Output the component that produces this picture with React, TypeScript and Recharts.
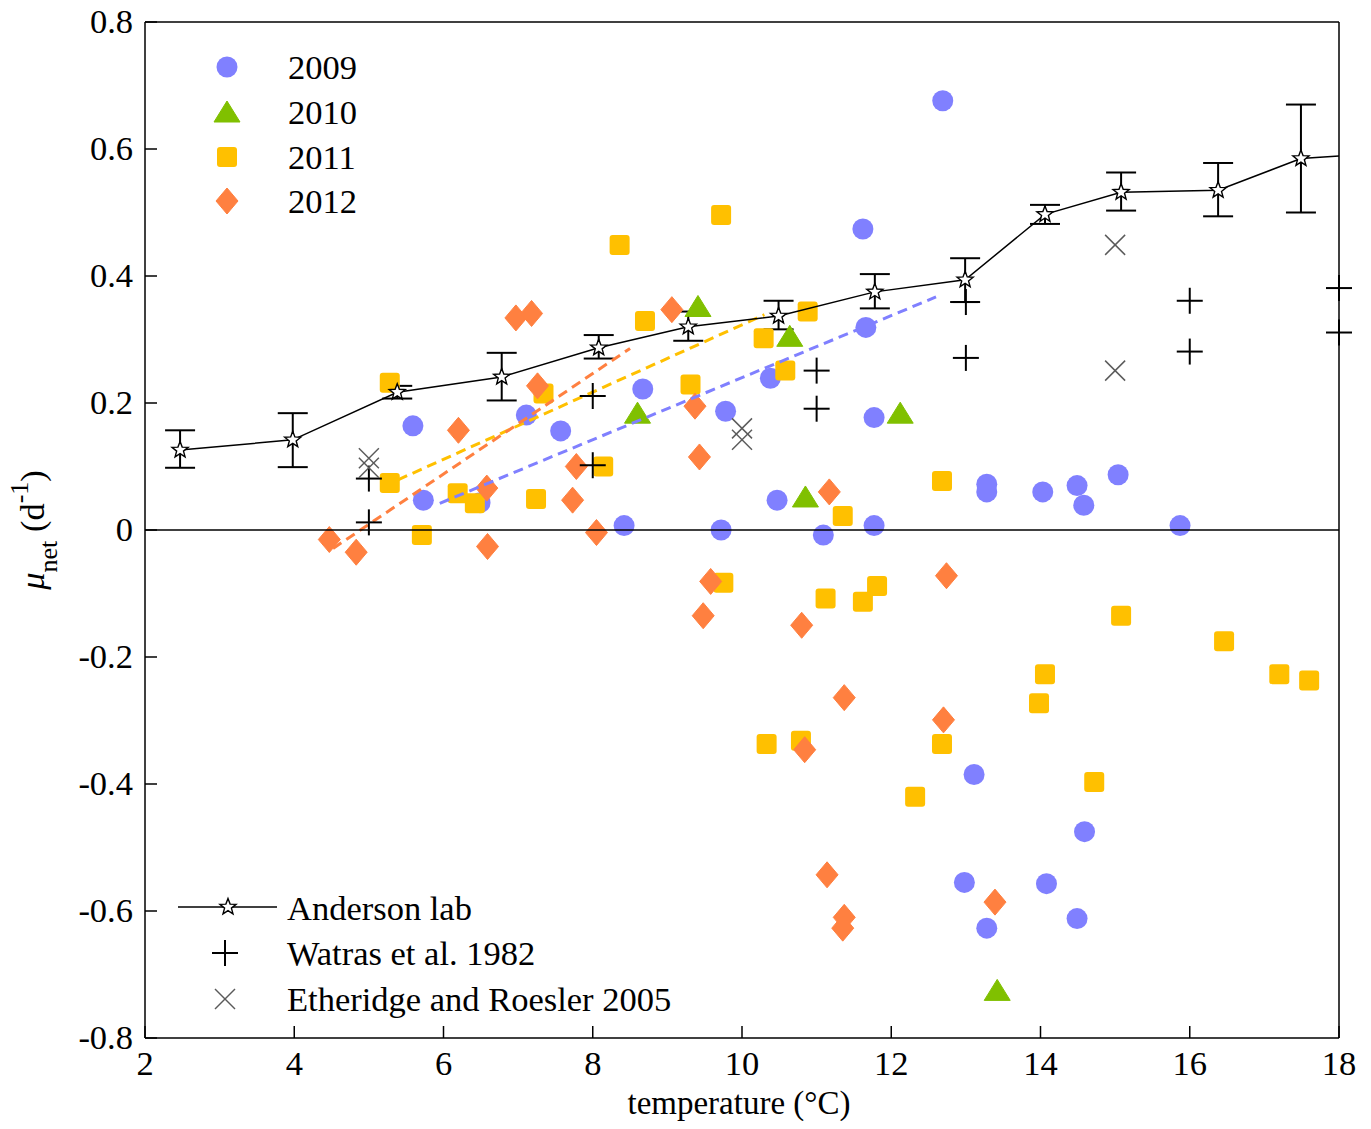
import React from 'react';
import { ComposedChart, Scatter, XAxis, YAxis, ErrorBar } from 'recharts';

const FONT = '"Liberation Serif", "Times New Roman", Times, serif';
const FS = 34.5;

// ---- axis ticks ----
const xTicks = [2, 4, 6, 8, 10, 12, 14, 16, 18];
const yTicks = [-0.8, -0.6, -0.4, -0.2, 0, 0.2, 0.4, 0.6, 0.8];

// ---- field data by year ----
const x2009 = [12.69, 11.62, 11.66, 10.38, 8.67, 9.78, 11.77, 5.59, 7.11, 7.57, 5.73, 6.49, 8.42, 9.72, 10.47, 11.09, 11.77, 13.28, 13.28, 14.03, 14.49, 14.58, 15.04, 15.87, 13.11, 14.59, 12.98, 14.08, 13.28, 14.49];
const y2009 = [0.676, 0.474, 0.319, 0.239, 0.222, 0.187, 0.177, 0.164, 0.181, 0.156, 0.047, 0.043, 0.007, 0.0, 0.047, -0.008, 0.007, 0.072, 0.06, 0.06, 0.07, 0.039, 0.087, 0.007, -0.385, -0.475, -0.555, -0.557, -0.627, -0.612];

const x2010 = [9.41, 10.64, 8.6, 12.12, 10.85, 13.42];
const y2010 = [0.352, 0.305, 0.184, 0.184, 0.052, -0.725];

const x2011 = [9.72, 8.36, 8.7, 10.88, 10.29, 10.58, 9.31, 5.28, 7.34, 8.14, 5.28, 6.19, 6.42, 7.24, 5.71, 11.35, 12.68, 9.75, 11.12, 11.62, 11.81, 15.08, 16.46, 17.2, 17.6, 14.06, 13.98, 10.33, 10.79, 12.68, 12.32, 14.72];
const y2011 = [0.496, 0.449, 0.329, 0.344, 0.302, 0.251, 0.229, 0.232, 0.215, 0.1, 0.074, 0.058, 0.042, 0.049, -0.008, 0.022, 0.077, -0.083, -0.108, -0.113, -0.088, -0.135, -0.175, -0.227, -0.237, -0.227, -0.273, -0.337, -0.332, -0.337, -0.42, -0.397];

const x2012 = [6.97, 7.18, 9.06, 7.26, 6.2, 7.78, 7.73, 6.58, 4.47, 4.83, 6.59, 8.05, 9.37, 9.43, 11.17, 9.58, 9.48, 10.8, 12.74, 11.37, 12.7, 10.84, 11.14, 11.37, 11.35, 13.39];
const y2012 = [0.334, 0.341, 0.347, 0.227, 0.157, 0.1, 0.047, 0.066, -0.015, -0.035, -0.026, -0.004, 0.195, 0.115, 0.06, -0.081, -0.135, -0.15, -0.072, -0.264, -0.299, -0.346, -0.543, -0.61, -0.627, -0.586];

// ---- regression lines (start / end) ----
const fit2009X = [5.95, 12.6];
const fit2009Y = [0.042, 0.367];
const fit2011X = [5.39, 10.3];
const fit2011Y = [0.079, 0.339];
const fit2012X = [4.52, 8.5];
const fit2012Y = [-0.029, 0.286];

// ---- Anderson lab means with error bounds ----
const andX = [2.47, 3.98, 5.38, 6.78, 8.08, 9.28, 10.49, 11.78, 12.99, 14.06, 15.08, 16.38, 17.49];
const andY = [0.126, 0.142, 0.217, 0.241, 0.287, 0.32, 0.337, 0.375, 0.394, 0.497, 0.532, 0.535, 0.585];
const andLo = [0.098, 0.099, 0.207, 0.204, 0.27, 0.298, 0.316, 0.349, 0.359, 0.482, 0.503, 0.494, 0.5];
const andHi = [0.157, 0.184, 0.227, 0.279, 0.307, 0.344, 0.361, 0.403, 0.428, 0.512, 0.563, 0.578, 0.67];
const andLineX = [...andX, 18];
const andLineY = [...andY, 0.589];

// ---- literature ----
const watrasX = [5, 5, 8, 8, 11, 11, 13, 13, 16, 16, 18, 18];
const watrasY = [0.081, 0.012, 0.211, 0.102, 0.251, 0.191, 0.359, 0.271, 0.361, 0.281, 0.381, 0.311];
const ethX = [5, 5, 10, 10, 15, 15];
const ethY = [0.113, 0.098, 0.16, 0.142, 0.449, 0.251];

const zeroX = [2, 18];
const zeroY = [0, 0];

const rows = (xs: number[], ys: number[]) => xs.map((x, i) => ({ x, y: ys[i] }));

const d2009 = rows(x2009, y2009);
const d2010 = rows(x2010, y2010);
const d2011 = rows(x2011, y2011);
const d2012 = rows(x2012, y2012);
const dFit2009 = rows(fit2009X, fit2009Y);
const dFit2011 = rows(fit2011X, fit2011Y);
const dFit2012 = rows(fit2012X, fit2012Y);
const dAnd = andX.map((x, i) => ({ x, y: andY[i], err: [andY[i] - andLo[i], andHi[i] - andY[i]] }));
const dAndLine = rows(andLineX, andLineY);
const dWatras = rows(watrasX, watrasY);
const dEth = rows(ethX, ethY);
const dZero = rows(zeroX, zeroY);

const C2009 = '#8080FF';
const C2010 = '#80C000';
const C2011 = '#FFC000';
const C2012 = '#FF8040';

// ---- marker drawings ----
const circleMk = (cx: number, cy: number) => <circle cx={cx} cy={cy} r={10.5} fill={C2009} />;
const triMk = (cx: number, cy: number) => (
  <polygon points={`${cx},${cy - 11} ${cx + 13},${cy + 10} ${cx - 13},${cy + 10}`} fill={C2010} stroke={C2010} strokeWidth={1} strokeLinejoin="round" />
);
const squareMk = (cx: number, cy: number) => (
  <rect x={cx - 10} y={cy - 10} width={20} height={20} rx={3} fill={C2011} />
);
const diamondMk = (cx: number, cy: number) => (
  <polygon points={`${cx},${cy - 13} ${cx + 11},${cy} ${cx},${cy + 13} ${cx - 11},${cy}`} fill={C2012} stroke={C2012} strokeWidth={1} strokeLinejoin="round" />
);
const starPts = (cx: number, cy: number, R: number, r: number) => {
  const p: string[] = [];
  for (let i = 0; i < 10; i++) {
    const a = -Math.PI / 2 + (i * Math.PI) / 5;
    const rad = i % 2 === 0 ? R : r;
    p.push(`${cx + rad * Math.cos(a)},${cy + rad * Math.sin(a)}`);
  }
  return p.join(' ');
};
const starMk = (cx: number, cy: number) => (
  <polygon points={starPts(cx, cy, 8.5, 3.6)} fill="#fff" stroke="#000" strokeWidth={1.4} />
);
const plusMk = (cx: number, cy: number) => (
  <g stroke="#000" strokeWidth={2}>
    <line x1={cx - 13} y1={cy} x2={cx + 13} y2={cy} />
    <line x1={cx} y1={cy - 13} x2={cx} y2={cy + 13} />
  </g>
);
const crossMk = (cx: number, cy: number) => (
  <g stroke="#5a5a5a" strokeWidth={1.5}>
    <line x1={cx - 10} y1={cy - 10} x2={cx + 10} y2={cy + 10} />
    <line x1={cx - 10} y1={cy + 10} x2={cx + 10} y2={cy - 10} />
  </g>
);

const shape = (fn: (cx: number, cy: number) => React.ReactElement) => (p: any) => fn(p.cx, p.cy);
const noShape = () => <g />;

const fmtY = (v: number) => (Math.abs(v) < 1e-9 ? '0' : v.toFixed(1));

const textStyle: React.CSSProperties = { fontFamily: FONT, fontSize: FS, fill: '#000' };
const titleStyle: React.CSSProperties = { fontFamily: FONT, fontSize: 33, fill: '#000' };

const BottomTick = (p: any) => (
  <g>
    <line x1={p.x} y1={p.y} x2={p.x} y2={p.y - 12} stroke="#000" strokeWidth={1.5} />
    <text x={p.x} y={p.y + 37} textAnchor="middle" style={textStyle}>{p.payload.value}</text>
  </g>
);
const TopTick = (p: any) => (
  <line x1={p.x} y1={p.y} x2={p.x} y2={p.y + 12} stroke="#000" strokeWidth={1.5} />
);
const LeftTick = (p: any) => (
  <g>
    <line x1={p.x} y1={p.y} x2={p.x + 12} y2={p.y} stroke="#000" strokeWidth={1.5} />
    <text x={p.x - 12} y={p.y + 11} textAnchor="end" style={textStyle}>{fmtY(p.payload.value)}</text>
  </g>
);
const RightTick = (p: any) => (
  <line x1={p.x} y1={p.y} x2={p.x - 12} y2={p.y} stroke="#000" strokeWidth={1.5} />
);

const W = 1371;
const H = 1129;

const axisLine = { stroke: '#000', strokeWidth: 1.5 };

export default function App() {
  return (
    <div style={{ position: 'relative', width: W, height: H, margin: '-8px 0 -8px -8px', background: '#fff' }}>
      <ComposedChart width={W} height={H} margin={{ top: 0, right: 0, bottom: 0, left: 0 }}>
        <XAxis xAxisId="b" dataKey="x" type="number" domain={[2, 18]} ticks={xTicks} interval={0}
          orientation="bottom" height={91} tickSize={0} tickMargin={0} tickLine={false} axisLine={axisLine} tick={BottomTick} />
        <XAxis xAxisId="t" dataKey="x" type="number" domain={[2, 18]} ticks={xTicks} interval={0}
          orientation="top" height={22} tickSize={0} tickMargin={0} tickLine={false} axisLine={axisLine} tick={TopTick} />
        <YAxis yAxisId="l" dataKey="y" type="number" domain={[-0.8, 0.8]} ticks={yTicks} interval={0}
          orientation="left" width={145} tickSize={0} tickMargin={0} tickLine={false} axisLine={axisLine} tick={LeftTick} />
        <YAxis yAxisId="r" dataKey="y" type="number" domain={[-0.8, 0.8]} ticks={yTicks} interval={0}
          orientation="right" width={32} tickSize={0} tickMargin={0} tickLine={false} axisLine={axisLine} tick={RightTick} />

        <Scatter xAxisId="b" yAxisId="l" data={d2009} dataKey="y" shape={shape(circleMk)} isAnimationActive={false} />
        <Scatter xAxisId="b" yAxisId="l" data={d2010} dataKey="y" shape={shape(triMk)} isAnimationActive={false} />
        <Scatter xAxisId="b" yAxisId="l" data={d2011} dataKey="y" shape={shape(squareMk)} isAnimationActive={false} />
        <Scatter xAxisId="b" yAxisId="l" data={d2012} dataKey="y" shape={shape(diamondMk)} isAnimationActive={false} />

        <Scatter xAxisId="b" yAxisId="l" data={dFit2009} dataKey="y" shape={noShape}
          line={{ stroke: C2009, strokeWidth: 3, strokeDasharray: '10 6' }} isAnimationActive={false} />
        <Scatter xAxisId="b" yAxisId="l" data={dFit2011} dataKey="y" shape={noShape}
          line={{ stroke: C2011, strokeWidth: 3, strokeDasharray: '10 6' }} isAnimationActive={false} />
        <Scatter xAxisId="b" yAxisId="l" data={dFit2012} dataKey="y" shape={noShape}
          line={{ stroke: C2012, strokeWidth: 3, strokeDasharray: '10 6' }} isAnimationActive={false} />

        <Scatter xAxisId="b" yAxisId="l" data={dAndLine} dataKey="y" shape={noShape}
          line={{ stroke: '#000', strokeWidth: 1.5 }} isAnimationActive={false} />
        <Scatter xAxisId="b" yAxisId="l" data={dAnd} dataKey="y" shape={shape(starMk)} isAnimationActive={false}>
          <ErrorBar dataKey="err" direction="y" width={15} stroke="#000" strokeWidth={2} />
        </Scatter>

        <Scatter xAxisId="b" yAxisId="l" data={dWatras} dataKey="y" shape={shape(plusMk)} isAnimationActive={false} />
        <Scatter xAxisId="b" yAxisId="l" data={dEth} dataKey="y" shape={shape(crossMk)} isAnimationActive={false} />

        <Scatter xAxisId="b" yAxisId="l" data={dZero} dataKey="y" shape={noShape}
          line={{ stroke: '#000', strokeWidth: 1.5 }} isAnimationActive={false} />
      </ComposedChart>

      <svg width={W} height={H} style={{ position: 'absolute', left: 0, top: 0, pointerEvents: 'none' }}>
        {/* year legend */}
        {circleMk(227, 67)}
        {triMk(227, 112)}
        {squareMk(227, 157)}
        {diamondMk(227, 201)}
        <text x={288} y={79} style={textStyle}>2009</text>
        <text x={288} y={124} style={textStyle}>2010</text>
        <text x={288} y={169} style={textStyle}>2011</text>
        <text x={288} y={213} style={textStyle}>2012</text>

        {/* literature legend */}
        <line x1={178} y1={907} x2={277} y2={907} stroke="#000" strokeWidth={1.5} />
        {starMk(228, 907)}
        {plusMk(225, 953)}
        {crossMk(225, 999)}
        <text x={287} y={920} style={textStyle}>Anderson lab</text>
        <text x={287} y={965} style={textStyle}>Watras et al. 1982</text>
        <text x={287} y={1011} style={textStyle}>Etheridge and Roesler 2005</text>

        {/* axis titles */}
        <text x={739} y={1114} textAnchor="middle" style={titleStyle}>temperature (°C)</text>
        <text transform="translate(44, 530) rotate(-90)" textAnchor="middle" style={textStyle}>
          <tspan fontStyle="italic">μ</tspan>
          <tspan fontSize={26} dy={13}>net</tspan>
          <tspan dy={-13}> (d</tspan>
          <tspan fontSize={26} dy={-16}>-1</tspan>
          <tspan dy={16}>)</tspan>
        </text>
      </svg>
    </div>
  );
}
